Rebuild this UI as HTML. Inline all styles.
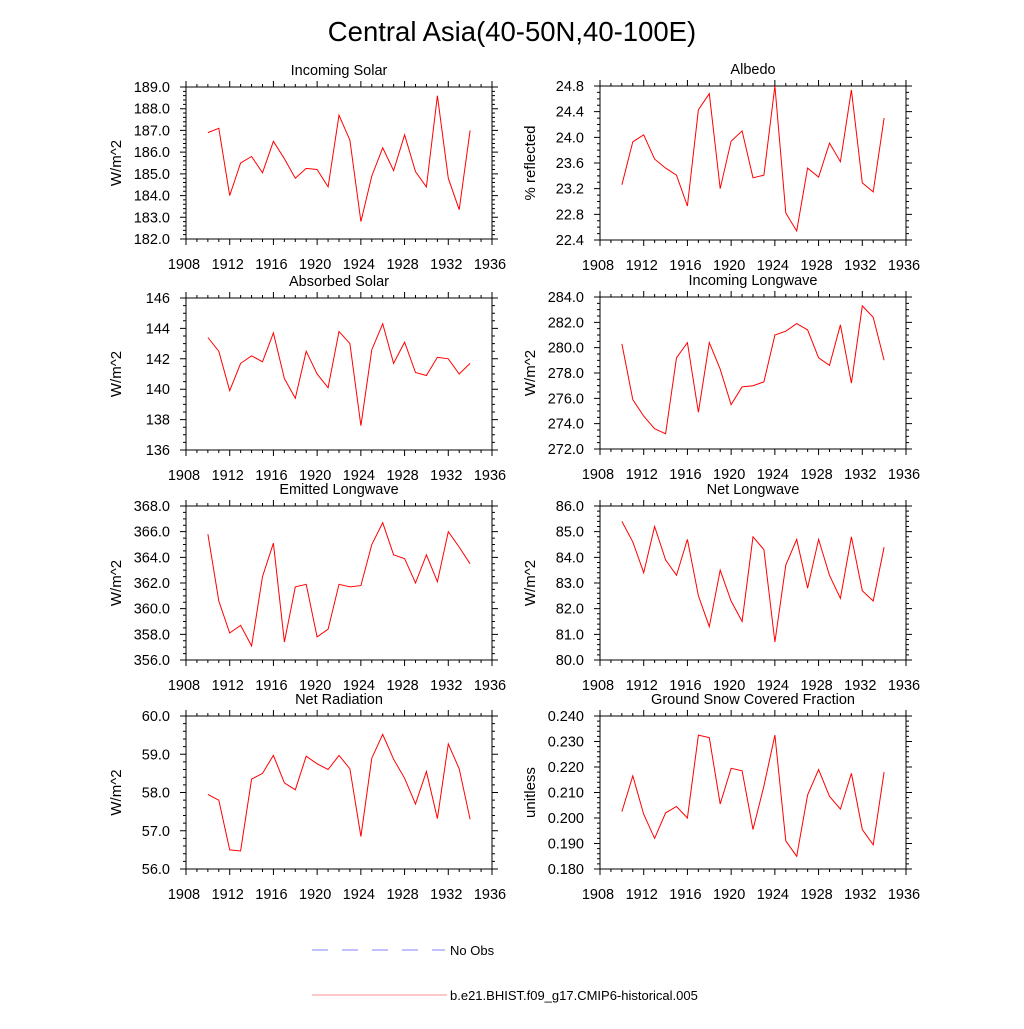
<!DOCTYPE html>
<html><head><meta charset="utf-8"><style>
body{margin:0;background:#fff;}
svg text{font-family:"Liberation Sans",sans-serif;fill:#000;}
</style></head><body>
<svg id="c" width="1024" height="1024" viewBox="0 0 1024 1024">
<text x="512" y="41" font-size="27.5" text-anchor="middle">Central Asia(40-50N,40-100E)</text>
<g>
<line x1="312" y1="950" x2="445" y2="950" stroke="#8080ff" stroke-width="1" stroke-dasharray="16,14"/>
<text x="450" y="955" font-size="13">No Obs</text>
<line x1="312" y1="995" x2="447" y2="995" stroke="#ff9090" stroke-width="1"/>
<text x="450" y="1000" font-size="13">b.e21.BHIST.f09_g17.CMIP6-historical.005</text>
</g>
</svg>
<script>
const years=[1910,1911,1912,1913,1914,1915,1916,1917,1918,1919,1920,1921,1922,1923,1924,1925,1926,1927,1928,1929,1930,1931,1932,1933,1934];
const xTicks=[1908,1912,1916,1920,1924,1928,1932,1936];
const incomingSolar=[186.9,187.1,184.0,185.5,185.8,185.05,186.5,185.7,184.8,185.25,185.2,184.4,187.7,186.55,182.8,184.9,186.2,185.15,186.8,185.1,184.4,188.6,184.8,183.35,187.0];
const albedo=[23.26,23.93,24.04,23.66,23.52,23.41,22.93,24.43,24.68,23.20,23.94,24.10,23.37,23.41,24.8,22.82,22.54,23.52,23.38,23.91,23.62,24.74,23.29,23.15,24.30];
const absorbedSolar=[143.4,142.5,139.9,141.7,142.2,141.8,143.7,140.7,139.4,142.5,141.0,140.1,143.8,143.0,137.6,142.6,144.3,141.7,143.1,141.1,140.9,142.1,142.0,141.0,141.7];
const incomingLW=[280.3,275.9,274.6,273.6,273.2,279.2,280.4,274.9,280.4,278.3,275.5,276.9,277.0,277.3,281.0,281.3,281.9,281.4,279.2,278.6,281.8,277.2,283.3,282.4,279.0];
const emittedLW=[365.8,360.6,358.1,358.7,357.1,362.5,365.1,357.4,361.7,361.9,357.8,358.4,361.9,361.7,361.8,365.0,366.7,364.2,363.9,362.0,364.2,362.1,366.0,364.8,363.5];
const netLW=[85.4,84.6,83.4,85.2,83.9,83.3,84.7,82.5,81.3,83.5,82.3,81.5,84.8,84.3,80.7,83.7,84.7,82.8,84.7,83.3,82.4,84.8,82.7,82.3,84.4];
const netRad=[57.95,57.8,56.5,56.47,58.35,58.5,58.97,58.25,58.07,58.95,58.75,58.6,58.97,58.62,56.85,58.9,59.52,58.87,58.37,57.7,58.55,57.32,59.27,58.62,57.3];
const snow=[0.2025,0.2165,0.2015,0.192,0.202,0.2045,0.2,0.2325,0.2315,0.2055,0.2195,0.2185,0.1955,0.2125,0.2325,0.191,0.185,0.209,0.219,0.2085,0.2035,0.2175,0.1955,0.1895,0.218];
const ticksIS=[182,183,184,185,186,187,188,189];
const ticksAL=[22.4,22.8,23.2,23.6,24.0,24.4,24.8];
const ticksAS=[136,138,140,142,144,146];
const ticksILW=[272,274,276,278,280,282,284];
const ticksELW=[356,358,360,362,364,366,368];
const ticksNLW=[80,81,82,83,84,85,86];
const ticksNR=[56,57,58,59,60];
const ticksSN=[0.18,0.19,0.2,0.21,0.22,0.23,0.24];

const NS='http://www.w3.org/2000/svg';
const svg=document.getElementById('c');
function mk(tag,attrs,parent){const e=document.createElementNS(NS,tag);for(const k in attrs)e.setAttribute(k,attrs[k]);parent.appendChild(e);return e;}

const panels=[
 {name:'incoming-solar',title:'Incoming Solar',yl:'W/m^2',data:incomingSolar,ticks:ticksIS,dec:1,x:186,y:87,h:152,minor:5},
 {name:'albedo',title:'Albedo',yl:'% reflected',data:albedo,ticks:ticksAL,dec:1,x:600,y:86,h:154,minor:4},
 {name:'absorbed-solar',title:'Absorbed Solar',yl:'W/m^2',data:absorbedSolar,ticks:ticksAS,dec:0,x:186,y:298,h:152,minor:4},
 {name:'incoming-longwave',title:'Incoming Longwave',yl:'W/m^2',data:incomingLW,ticks:ticksILW,dec:1,x:600,y:297,h:152,minor:4},
 {name:'emitted-longwave',title:'Emitted Longwave',yl:'W/m^2',data:emittedLW,ticks:ticksELW,dec:1,x:186,y:506,h:154,minor:4},
 {name:'net-longwave',title:'Net Longwave',yl:'W/m^2',data:netLW,ticks:ticksNLW,dec:1,x:600,y:506,h:154,minor:5},
 {name:'net-radiation',title:'Net Radiation',yl:'W/m^2',data:netRad,ticks:ticksNR,dec:1,x:186,y:716,h:153,minor:5},
 {name:'ground-snow-covered-fraction',title:'Ground Snow Covered Fraction',yl:'unitless',data:snow,ticks:ticksSN,dec:3,x:600,y:716,h:153,minor:5}
];
const W=306;
panels.forEach(p=>{
 const g=mk('g',{},svg);
 
 
 const x0=xTicks[0],x1=xTicks[xTicks.length-1];
 const y0=p.ticks[0],y1=p.ticks[p.ticks.length-1];
 const sx=v=>p.x+(v-x0)/(x1-x0)*W;
 const sy=v=>p.y+p.h-(v-y0)/(y1-y0)*p.h;
 const fr=mk('rect',{x:p.x,y:p.y,width:W,height:p.h,fill:'none',stroke:'#000','stroke-width':1},g);
 
 
 let tk='';
 for(let yr=x0;yr<=x1;yr++){
  const X=sx(yr),L=(yr-x0)%4===0?6:3;
  tk+=`M${X},${p.y+p.h}v${L}M${X},${p.y}v${-L}`;
 }
 for(let i=0;i<p.ticks.length;i++){
  const Y=sy(p.ticks[i]);
  tk+=`M${p.x},${Y}h-6M${p.x+W},${Y}h6`;
  if(i<p.ticks.length-1){
   const st=(p.ticks[i+1]-p.ticks[i])/p.minor;
   for(let m=1;m<p.minor;m++){const Ym=sy(p.ticks[i]+st*m);tk+=`M${p.x},${Ym}h-3M${p.x+W},${Ym}h3`;}
  }
 }
 const tp=mk('path',{d:tk,stroke:'#000','stroke-width':1,fill:'none'},g);
 
 
 xTicks.forEach(t=>{
  const e=mk('text',{x:sx(t)-2,y:p.y+p.h+30,'font-size':14.5,'text-anchor':'middle'},g);
  e.textContent=t;
  
  
 });
 p.ticks.forEach(t=>{
  const e=mk('text',{x:p.x-16,y:sy(t)+5,'font-size':14.5,'text-anchor':'end'},g);
  e.textContent=t.toFixed(p.dec);
  
  
 });
 const t=mk('text',{x:p.x+W/2,y:p.y-12,'font-size':14.5,'text-anchor':'middle'},g);
 t.textContent=p.title;
 
 
 const yx=p.x-65,yy=p.y+p.h/2;
 const yl=mk('text',{x:yx,y:yy,'font-size':15,'text-anchor':'middle',transform:`rotate(-90 ${yx} ${yy})`},g);
 yl.textContent=p.yl;
 
 
 const pts=p.data.map((v,i)=>sx(years[i]).toFixed(1)+','+sy(v).toFixed(1)).join(' ');
 const ln=mk('polyline',{points:pts,fill:'none',stroke:'#ff0000','stroke-width':1},g);
 
 
});
</script>
</body></html>
